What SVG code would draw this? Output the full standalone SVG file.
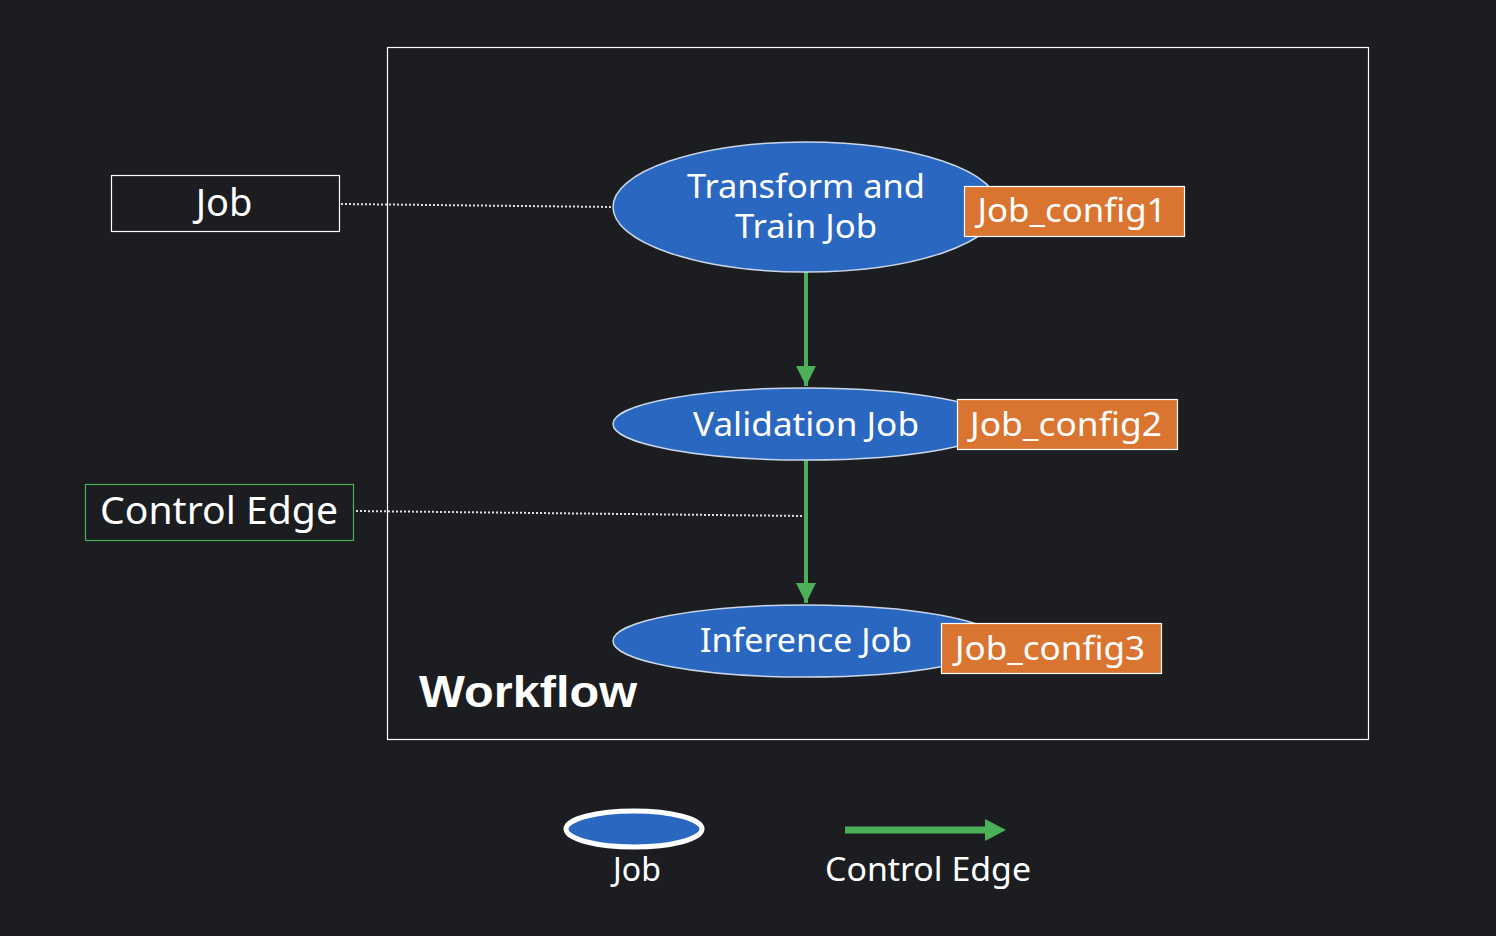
<svg xmlns="http://www.w3.org/2000/svg" width="1496" height="936" viewBox="0 0 1496 936">
<style>
.bg{fill:#1b1d20}
.t{font-family:"Noto Sans","Open Sans","DejaVu Sans",sans-serif;fill:#ffffff;text-anchor:middle}
.job{fill:#2967c0;stroke:#c9d6ea;stroke-width:1.5}
.cfg{fill:#d97530;stroke:#ffffff;stroke-width:1.2}
.edge{stroke:#4caf5a;stroke-width:4;fill:none}
.dot{stroke:#e0e0e0;stroke-width:2;stroke-dasharray:2 2;fill:none}
</style>
<defs>
<marker id="ah" markerWidth="5" markerHeight="5" refX="5" refY="2.5" orient="auto" markerUnits="strokeWidth">
<path d="M0,0 L5,2.5 L0,5 z" fill="#4caf5a"/>
</marker>
</defs>
<rect class="bg" x="0" y="0" width="1496" height="936"/>
<g id="workflow">
<rect x="387.5" y="47.5" width="981" height="692" fill="none" stroke="#ffffff" stroke-width="1.2"/>
<text x="528" y="707" font-family="'Liberation Sans',Arial,sans-serif" font-weight="900" font-size="44" fill="#ffffff" text-anchor="middle" textLength="218" lengthAdjust="spacingAndGlyphs">Workflow</text>
</g>
<g id="connectors">
<line class="edge" x1="806" y1="272" x2="806" y2="386" marker-end="url(#ah)"/>
<line class="edge" x1="806" y1="460" x2="806" y2="603" marker-end="url(#ah)"/>
<polyline class="dot" points="341,204 613,207"/>
<polyline class="dot" points="356,511 804,516"/>
</g>
<g id="job1">
<ellipse class="job" cx="806" cy="207" rx="193" ry="65"/>
<text class="t" x="806" y="198" font-size="33" textLength="238" lengthAdjust="spacingAndGlyphs">Transform and</text>
<text class="t" x="806" y="238" font-size="33" textLength="142" lengthAdjust="spacingAndGlyphs">Train Job</text>
</g>
<g id="config1">
<rect class="cfg" x="964.5" y="186.5" width="220" height="50"/>
<text class="t" x="1072" y="222" font-size="33" textLength="189" lengthAdjust="spacingAndGlyphs">Job_config1</text>
</g>
<g id="job2">
<ellipse class="job" cx="806" cy="424" rx="193" ry="36"/>
<text class="t" x="806" y="436" font-size="33" textLength="226" lengthAdjust="spacingAndGlyphs">Validation Job</text>
</g>
<g id="config2">
<rect class="cfg" x="957.5" y="399.5" width="220" height="50"/>
<text class="t" x="1066" y="436" font-size="33" textLength="192" lengthAdjust="spacingAndGlyphs">Job_config2</text>
</g>
<g id="job3">
<ellipse class="job" cx="806" cy="641" rx="193" ry="36"/>
<text class="t" x="806" y="652" font-size="33" textLength="212" lengthAdjust="spacingAndGlyphs">Inference Job</text>
</g>
<g id="config3">
<rect class="cfg" x="941.5" y="623.5" width="220" height="50"/>
<text class="t" x="1050" y="660" font-size="33" textLength="190" lengthAdjust="spacingAndGlyphs">Job_config3</text>
</g>
<g id="label-job">
<rect x="111.5" y="175.5" width="228" height="56" fill="none" stroke="#ffffff" stroke-width="1.2"/>
<text class="t" x="224" y="216" font-size="38">Job</text>
</g>
<g id="label-control-edge">
<rect x="85.5" y="484.5" width="268" height="56" fill="none" stroke="#4caf5a" stroke-width="1.2"/>
<text class="t" x="219" y="524" font-size="38" textLength="238" lengthAdjust="spacingAndGlyphs">Control Edge</text>
</g>
<g id="legend">
<ellipse cx="634" cy="829" rx="68" ry="18" fill="#2967c0" stroke="#ffffff" stroke-width="5"/>
<text class="t" x="637" y="881" font-size="32">Job</text>
<line x1="845" y1="830" x2="987" y2="830" stroke="#4caf5a" stroke-width="7"/>
<path d="M985,819 L1006,830 L985,841 z" fill="#4caf5a"/>
<text class="t" x="928" y="881" font-size="32" textLength="206" lengthAdjust="spacingAndGlyphs">Control Edge</text>
</g>
</svg>
